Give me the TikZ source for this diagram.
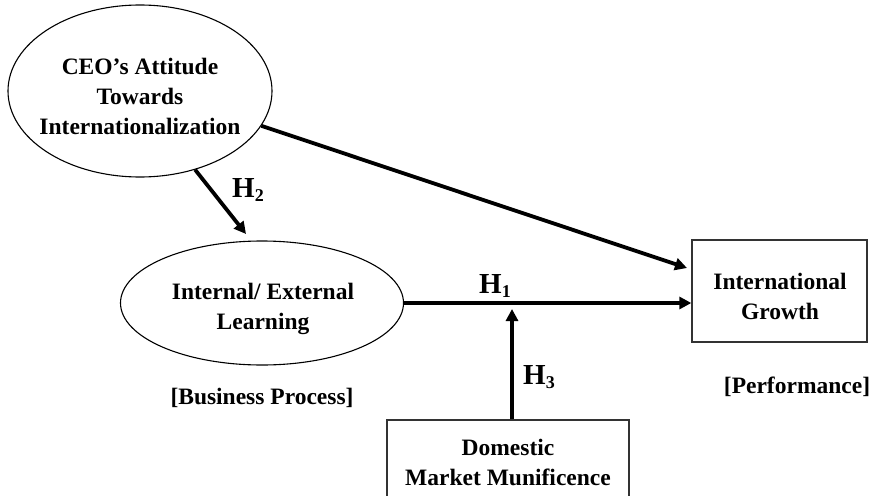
\documentclass[tikz,border=0pt]{standalone}
\usepackage{fontspec}
\setmainfont{Liberation Serif}
\usetikzlibrary{shapes.geometric,arrows.meta}
\begin{document}
\begin{tikzpicture}[x=1pt,y=-1pt,
  txt/.style={font=\fontsize{23.5}{30}\selectfont\bfseries, align=center},
  oval/.style={ellipse, draw, line width=1.1pt, inner sep=0pt},
  box/.style={rectangle, draw=black!80, line width=1.3pt, inner sep=0pt},
  arr/.style={line width=3.8pt, -{Triangle[length=12pt,width=12pt]}},
  hlab/.style={font=\fontsize{29}{30}\selectfont\bfseries}]
\useasboundingbox (0,0) rectangle (869,495);
\clip (0,0) rectangle (869,495);
\node[oval, minimum width=264pt, minimum height=172pt] (ceo) at (140,91) {};
\node[txt] (ceotxt) at (140,96) {CEO’s Attitude\\Towards\\Internationalization};
\node[oval, minimum width=283pt, minimum height=124pt] (learn) at (262,303) {};
\node[txt] (learntxt) at (263,309) {Internal/ External\\Learning};
\node[box, minimum width=175pt, minimum height=102pt] (growth) at (779.5,291) {};
\node[txt] (growthtxt) at (780,296) {International\\Growth};
\node[box, minimum width=242pt, minimum height=110pt] (dom) at (508,475) {};
\node[txt, anchor=north] (domtxt) at (508,436) {Domestic\\Market Munificence};
\node[txt] (bp) at (262,398) {[Business Process]};
\node[txt] (perf) at (797,387) {[Performance]};
\coordinate (h2end) at (246,234);
\coordinate (longend) at (687,268);
\coordinate (h3end) at (512,309);
\draw[arr] (ceo.-55) -- (h2end);
\draw[arr] (ceo.-16) -- (longend);
\draw[arr] (learn.east) -- (learn.east -| growth.west);
\draw[arr] (h3end |- dom.north) -- (h3end);
\node[hlab] (h1) at (495,286) {H\raisebox{-0.25ex}{\fontsize{18}{18}\selectfont 1}};
\node[hlab] (h2) at (248,190) {H\raisebox{-0.25ex}{\fontsize{18}{18}\selectfont 2}};
\node[hlab] (h3) at (539,377) {H\raisebox{-0.25ex}{\fontsize{18}{18}\selectfont 3}};
\end{tikzpicture}
\end{document}
